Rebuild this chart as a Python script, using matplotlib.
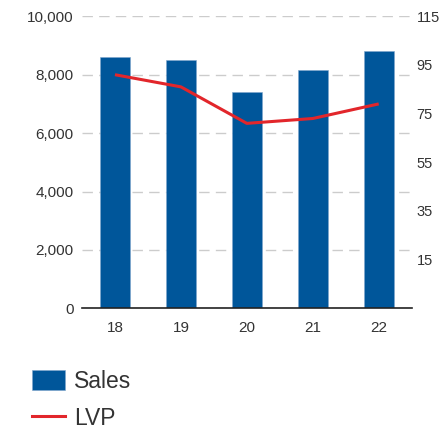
import matplotlib
matplotlib.use("Agg")
import matplotlib.pyplot as plt
from matplotlib.patches import Patch
from matplotlib.lines import Line2D
from matplotlib.ticker import FuncFormatter

categories = ["18", "19", "20", "21", "22"]
sales = [8600, 8500, 7400, 8150, 8800]
lvp = [91, 86, 71, 73, 79]
left_ticks = [0, 2000, 4000, 6000, 8000, 10000]
right_ticks = [15, 35, 55, 75, 95, 115]

BAR = "#00569A"
RED = "#E2262B"
TXT = "#333333"
GRID = "#cccccc"
FONT = ["Liberation Sans", "DejaVu Sans"]
plt.rcParams["font.family"] = FONT

fig = plt.figure(figsize=(4.42, 4.32), dpi=100)
ax = fig.add_axes([82 / 442, 1 - 308.3 / 432, (411.7 - 82) / 442, (308.3 - 16.3) / 432])
x = list(range(len(categories)))
ax.bar(x, sales, width=0.45, color=BAR, edgecolor="#7fa6cc", linewidth=0.4, zorder=2)
ax.set_xlim(-0.5, len(categories) - 0.5)
ax.set_ylim(0, 10000)
ax.set_yticks(left_ticks)
ax.yaxis.set_major_formatter(FuncFormatter(lambda v, p: f"{int(v):,}"))
ax.set_xticks(x)
ax.set_xticklabels(categories)
ax.grid(axis="y", color=GRID, linestyle=(0, (7.5, 4.5)), linewidth=1.0, zorder=0)
ax.set_axisbelow(True)
for s in ["top", "right", "left"]:
    ax.spines[s].set_visible(False)
ax.spines["bottom"].set_color("#222222")
ax.spines["bottom"].set_linewidth(1.2)
ax.tick_params(axis="y", length=0, pad=6, labelsize=11, labelcolor=TXT)
ax.tick_params(axis="x", length=0, pad=9, labelsize=11, labelcolor=TXT)

ax2 = ax.twinx()
ax2.plot(x, lvp, color=RED, linewidth=2.2, zorder=3, solid_capstyle="butt")
ax2.set_ylim(-5, 115)
ax2.set_yticks(right_ticks)
for s in ["top", "right", "left", "bottom"]:
    ax2.spines[s].set_visible(False)
ax2.tick_params(axis="y", length=0, pad=3.5, labelsize=10.5, labelcolor=TXT)
for lab in ax2.get_yticklabels():
    lab.set_verticalalignment("center_baseline")

handles = [Patch(facecolor=BAR, edgecolor="#7fa6cc", linewidth=0.4),
           Line2D([0], [0], color=RED, linewidth=2.2)]
leg = fig.legend(handles, ["Sales", "LVP"], loc="upper left",
                 bbox_to_anchor=(32 / 442, 1 - 370 / 432),
                 frameon=False, fontsize=16.5, handlelength=1.45, handleheight=0.92,
                 handletextpad=0.4, labelspacing=0.6, borderpad=0, borderaxespad=0)
for t in leg.get_texts():
    t.set_color(TXT)

fig.savefig("out.png", dpi=100)
